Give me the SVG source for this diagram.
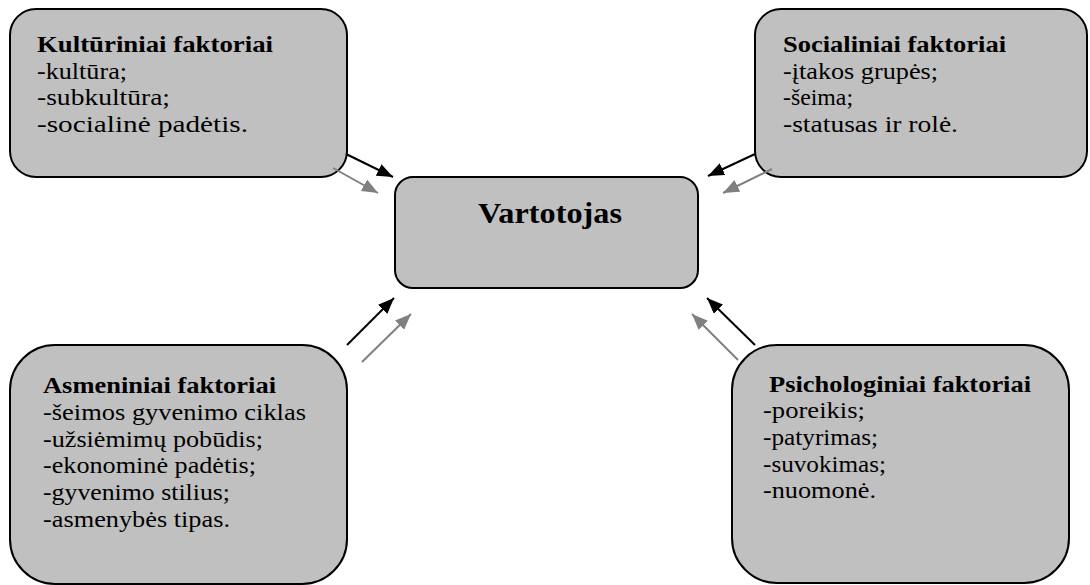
<svg xmlns="http://www.w3.org/2000/svg" width="1090" height="585" viewBox="0 0 1090 585">
<style>
.box{fill:#c0c0c0;stroke:#000;stroke-width:2}
.t{font-size:24px;fill:#000}
.b{font-weight:bold}
.main{font-size:30px;font-weight:bold;fill:#000}
.k{stroke:#000;stroke-width:2;fill:none}
.g{stroke:#808080;stroke-width:2;fill:none}
</style>
<defs>
<marker id="hk" markerUnits="userSpaceOnUse" markerWidth="16" markerHeight="13" refX="16" refY="6.5" orient="auto"><path d="M0,0 L16,6.5 L0,13 z" fill="#000"/></marker>
<marker id="hg" markerUnits="userSpaceOnUse" markerWidth="16" markerHeight="13" refX="16" refY="6.5" orient="auto"><path d="M0,0 L16,6.5 L0,13 z" fill="#808080"/></marker>
</defs>
<g font-family="Liberation Serif, DejaVu Serif, serif">
<g id="kulturiniai">
<rect class="box" x="10" y="9" width="337" height="168" rx="26" ry="26"/>
<text class="t b" x="37" y="52" textLength="236" lengthAdjust="spacingAndGlyphs">Kultūriniai faktoriai</text>
<text class="t" x="37" y="79" textLength="90" lengthAdjust="spacingAndGlyphs">-kultūra;</text>
<text class="t" x="37" y="105" textLength="133" lengthAdjust="spacingAndGlyphs">-subkultūra;</text>
<text class="t" x="37" y="132" textLength="211" lengthAdjust="spacingAndGlyphs">-socialinė padėtis.</text>
</g>
<g id="socialiniai">
<rect class="box" x="755" y="9" width="332" height="168" rx="26" ry="26"/>
<text class="t b" x="783" y="52" textLength="223" lengthAdjust="spacingAndGlyphs">Socialiniai faktoriai</text>
<text class="t" x="783" y="79" textLength="155" lengthAdjust="spacingAndGlyphs">-įtakos grupės;</text>
<text class="t" x="783" y="105" textLength="70" lengthAdjust="spacingAndGlyphs">-šeima;</text>
<text class="t" x="783" y="132" textLength="175" lengthAdjust="spacingAndGlyphs">-statusas ir rolė.</text>
</g>
<g id="vartotojas">
<rect class="box" x="395" y="177" width="303" height="111" rx="18" ry="18"/>
<text class="main" x="478" y="223" textLength="144" lengthAdjust="spacingAndGlyphs">Vartotojas</text>
</g>
<g id="asmeniniai">
<rect class="box" x="10" y="345" width="337" height="239" rx="45" ry="45"/>
<text class="t b" x="43" y="393" textLength="233" lengthAdjust="spacingAndGlyphs">Asmeniniai faktoriai</text>
<text class="t" x="43" y="420" textLength="263" lengthAdjust="spacingAndGlyphs">-šeimos gyvenimo ciklas</text>
<text class="t" x="43" y="447" textLength="220" lengthAdjust="spacingAndGlyphs">-užsiėmimų pobūdis;</text>
<text class="t" x="43" y="473" textLength="213" lengthAdjust="spacingAndGlyphs">-ekonominė padėtis;</text>
<text class="t" x="43" y="500" textLength="187" lengthAdjust="spacingAndGlyphs">-gyvenimo stilius;</text>
<text class="t" x="43" y="527" textLength="187" lengthAdjust="spacingAndGlyphs">-asmenybės tipas.</text>
</g>
<g id="psichologiniai">
<rect class="box" x="732" y="345" width="337" height="238" rx="45" ry="45"/>
<text class="t b" x="769" y="392" textLength="262" lengthAdjust="spacingAndGlyphs">Psichologiniai faktoriai</text>
<text class="t" x="763" y="418" textLength="102" lengthAdjust="spacingAndGlyphs">-poreikis;</text>
<text class="t" x="763" y="445" textLength="115" lengthAdjust="spacingAndGlyphs">-patyrimas;</text>
<text class="t" x="763" y="472" textLength="123" lengthAdjust="spacingAndGlyphs">-suvokimas;</text>
<text class="t" x="763" y="498" textLength="113" lengthAdjust="spacingAndGlyphs">-nuomonė.</text>
</g>
</g>
<g id="connectors">
<line class="k" x1="346" y1="154" x2="393" y2="177" marker-end="url(#hk)"/>
<line class="g" x1="333" y1="168" x2="378" y2="193" marker-end="url(#hg)"/>
<line class="k" x1="755" y1="154" x2="708" y2="176" marker-end="url(#hk)"/>
<line class="g" x1="772" y1="169" x2="723" y2="193" marker-end="url(#hg)"/>
<line class="k" x1="347" y1="345" x2="394" y2="298" marker-end="url(#hk)"/>
<line class="g" x1="362" y1="362" x2="411" y2="314" marker-end="url(#hg)"/>
<line class="k" x1="755" y1="345" x2="707" y2="298" marker-end="url(#hk)"/>
<line class="g" x1="738" y1="360" x2="692" y2="314" marker-end="url(#hg)"/>
</g>
</svg>
